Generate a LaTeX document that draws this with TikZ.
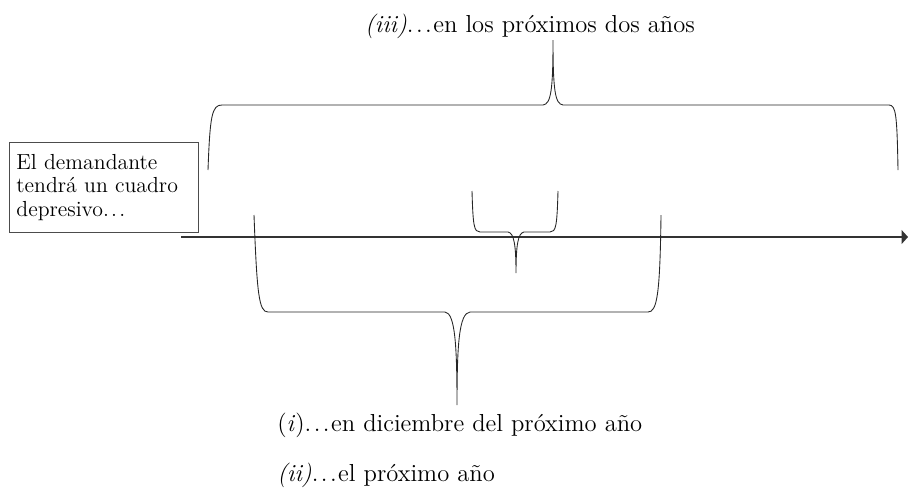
\documentclass[tikz,border=0pt]{standalone}
\usepackage{fontspec}
\usetikzlibrary{arrows.meta}

% Suspension points with a little air between the dots
\newcommand{\suspdots}{.\hspace{0.1em}.\hspace{0.1em}.\hspace{0.06em}}

\begin{document}
\begin{tikzpicture}[x=0.02cm, y=-0.02cm,
    % Define the styles for the braces, the time line and the texts
    bracket/.style={draw=black!85, line width=0.5pt},
    timeline/.style={draw=black!80, line width=0.85pt, -{Triangle[length=0.13cm, width=0.28cm]}},
    claimbox/.style={draw=black!70, line width=0.5pt, anchor=north west, inner xsep=0.14cm,
        text width=3.5cm, minimum height=1.8cm, align=left,
        font=\fontsize{12.4}{13.3}\selectfont},
    caselabel/.style={inner sep=0pt, font=\fontsize{14}{16}\selectfont}
]
\useasboundingbox (0,0) rectangle (908,487);

% Define the points of the time line
\coordinate (T0) at (181,237);
\coordinate (T1) at (908,237);

% Draw the box and the time line
\node[claimbox] (box) at (9,142) {El demandante\\ tendrá un cuadro\\ depresivo\suspdots};
\draw[timeline] (T0) -- (T1);

% Add the labels
\node[caselabel, anchor=base] (iii) at (530,32) {\textit{(iii)}\suspdots en los próximos dos años};
\node[caselabel, anchor=base west] (i) at (277,431) {(\textit{i})\suspdots en diciembre del próximo año};
\node[caselabel, anchor=base west] (ii) at (277,481) {\textit{(ii)}\suspdots el próximo año};

% Define the tips of the braces
\coordinate (tipiii) at (553,40);
\coordinate (tipii) at (516,273);
\coordinate (tipi) at (457,405);

% Draw the brace for the next two years
\draw[bracket] (208,170) .. controls (210,115) and (212,105) .. (222,105) -- (543,105)
    .. controls (551,104) and (553,90) .. (tipiii)
    .. controls (553,90) and (555,104) .. (563,105) -- (889,105)
    .. controls (896,105) and (897,115) .. (898,170);

% Draw the brace for december
\draw[bracket] (472,191) .. controls (473,226) and (474,232) .. (480,232) -- (508,232)
    .. controls (514,233) and (516,245) .. (tipii)
    .. controls (516,245) and (518,233) .. (524,232) -- (550,232)
    .. controls (556,232) and (557,226) .. (558,191);

% Draw the brace for next year
\draw[bracket] (254,215) .. controls (257,295) and (259,312) .. (268,312) -- (445,312)
    .. controls (455,313) and (457,345) .. (tipi)
    .. controls (457,345) and (459,313) .. (470,312) -- (648,312)
    .. controls (657,312) and (660,295) .. (661,215);

\end{tikzpicture}
\end{document}
